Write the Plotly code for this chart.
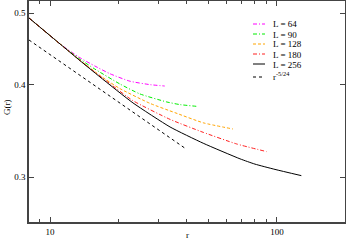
import plotly.graph_objects as go

# ---- data ----
r_64 = [8.08, 11.07, 13.55, 15.74, 18.38, 22.5, 27.6, 32.0]
g_64 = [0.4923, 0.4541, 0.4350, 0.4240, 0.4138, 0.4043, 0.4000, 0.3983]

r_90 = [8.08, 11.07, 13.55, 15.74, 20.3, 24.9, 32.7, 37.4, 45.0]
g_90 = [0.4923, 0.4541, 0.4330, 0.4200, 0.4009, 0.3886, 0.3790, 0.3759, 0.3737]

r_128 = [8.08, 11.07, 13.55, 16.8, 20.3, 27.6, 35.5, 47.3, 64.0]
g_128 = [0.4923, 0.4541, 0.4316, 0.4104, 0.3952, 0.3773, 0.3666, 0.3552, 0.3484]

r_180 = [8.08, 11.07, 13.55, 18.4, 23.2, 33.8, 47.3, 66.5, 90.0]
g_180 = [0.4923, 0.4541, 0.4312, 0.4010, 0.3805, 0.3590, 0.3448, 0.3325, 0.3247]

r_256 = [8.08, 11.07, 13.55, 16.6, 23.2, 33.8, 47.3, 68.7, 80.0, 98.0, 128.0]
g_256 = [0.4923, 0.4541, 0.4311, 0.4097, 0.3779, 0.3506, 0.3333, 0.3175, 0.3123, 0.3072, 0.3013]

r_ref = [8.08, 40.0]
g_ref = [0.4597, 0.3270]

x_ticks = [10, 100]
x_tick_text = ["10", "100"]
x_minor = [9, 20, 30, 40, 50, 60, 70, 80, 90]
y_ticks = [0.3, 0.4, 0.5]
y_tick_text = ["0.3", "0.4", "0.5"]

series = [
    ("L = 64", r_64, g_64, "#ff00ff", "4px,2px,1px,2px"),
    ("L = 90", r_90, g_90, "#00ee00", "4px,2px,1px,2px"),
    ("L = 128", r_128, g_128, "#ffa500", "3px,2px"),
    ("L = 180", r_180, g_180, "#ff2020", "4px,2px,1px,2px"),
    ("L = 256", r_256, g_256, "#000000", "solid"),
    ("r<sup>-5/24</sup>", r_ref, g_ref, "#000000", "3px,3px"),
]

FONT = "Liberation Serif, Times New Roman, serif"
fig = go.Figure()
for name, xs, ys, col, dash in series:
    fig.add_trace(go.Scatter(x=xs, y=ys, mode="lines", name=name,
                             line=dict(color=col, width=1, dash=dash, shape="spline", smoothing=0.5),
                             showlegend=False))

# custom legend (pixel positions converted to paper coords)
L, T, W, H = 29, 1, 316, 221
def px(x):
    return (x - L) / W
def py(y):
    return (T + H - y) / H

rows = [24, 34, 44, 54, 64, 77]
for (name, xs, ys, col, dash), yy in zip(series, rows):
    fig.add_shape(type="line", xref="paper", yref="paper",
                  x0=px(253), x1=px(265), y0=py(yy), y1=py(yy),
                  line=dict(color=col, width=1, dash=dash))
    fig.add_annotation(xref="paper", yref="paper", x=px(271), y=py(yy + (0.5 if yy != 77 else -1)),
                       text=name, showarrow=False, xanchor="left", yanchor="middle",
                       font=dict(family=FONT, size=9, color="black"))

# axis titles
fig.add_annotation(xref="paper", yref="paper", x=px(187), y=py(235), text="r",
                   showarrow=False, xanchor="center", yanchor="middle",
                   font=dict(family=FONT, size=9, color="black"))
fig.add_annotation(xref="paper", yref="paper", x=px(7), y=py(107), text="G(r)",
                   showarrow=False, xanchor="center", yanchor="middle", textangle=-90,
                   font=dict(family=FONT, size=9, color="black"))

axis_common = dict(showgrid=False, zeroline=False, showline=True, linecolor="#444",
                   linewidth=1.5, mirror="allticks", ticks="inside", ticklen=5,
                   tickcolor="#444", tickwidth=1, automargin=False,
                   tickfont=dict(family=FONT, size=9, color="black"))

fig.update_xaxes(type="log", range=[0.9075, 2.2996], tickvals=x_ticks, ticktext=x_tick_text,
                 minor=dict(tickvals=x_minor, ticks="inside", ticklen=3, tickcolor="#444", showgrid=False),
                 **axis_common)
fig.update_yaxes(type="log", range=[-0.5837, -0.2848], tickvals=y_ticks, ticktext=y_tick_text,
                 **axis_common)

fig.update_layout(width=346, height=241, margin=dict(l=29, r=1, t=1, b=19),
                  paper_bgcolor="white", plot_bgcolor="white", showlegend=False)

fig.write_html("out.html", config={"displayModeBar": False},
               post_script="document.body.style.margin='0';document.body.style.overflow='hidden';")
